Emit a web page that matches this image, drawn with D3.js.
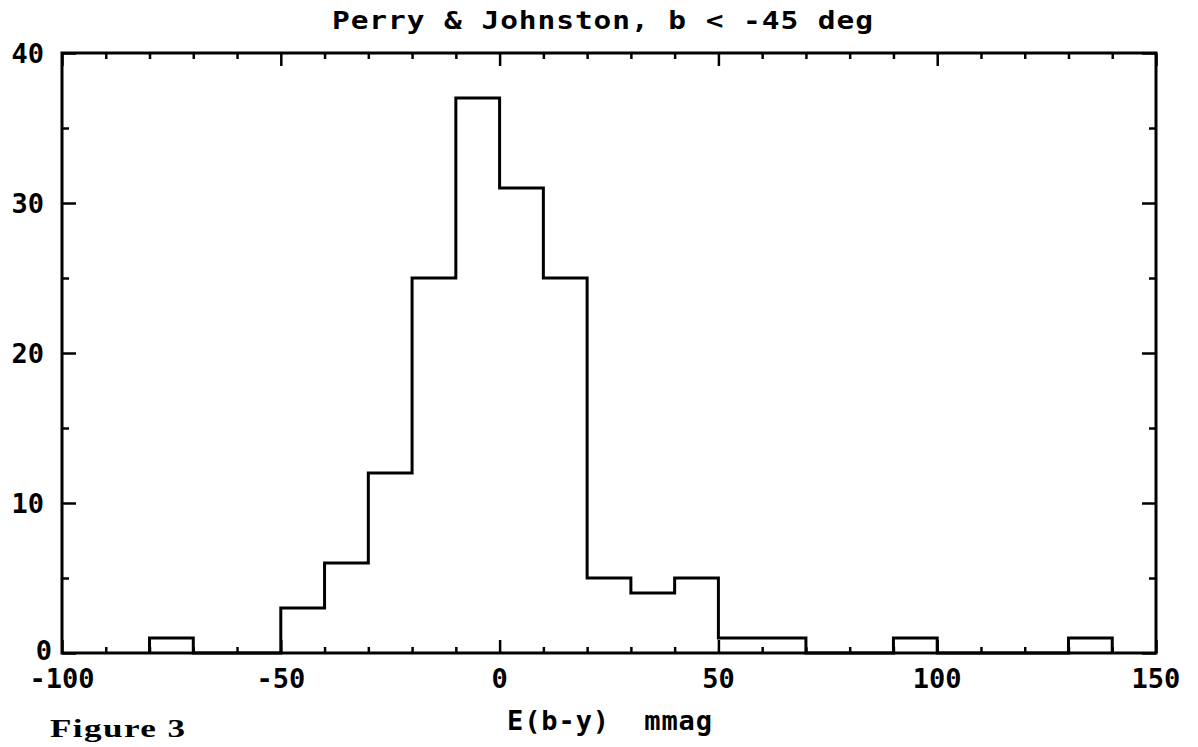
<!DOCTYPE html>
<html>
<head>
<meta charset="utf-8">
<script src="https://cdn.jsdelivr.net/npm/d3@7"></script>
<style>
  html, body { margin: 0; padding: 0; background: #ffffff; }
  svg { display: block; }
  text { fill: #000; }
</style>
</head>
<body>
<script>
// ---- data ----
const binStarts = [-80, -70, -60, -50, -40, -30, -20, -10, 0, 10, 20, 30, 40, 50, 60, 70, 80, 90, 100, 110, 120, 130];
const binWidth = 10;
const counts = [1, 0, 0, 3, 6, 12, 25, 37, 31, 25, 5, 4, 5, 1, 1, 0, 0, 1, 0, 0, 0, 1];
const xTickLabels = [-100, -50, 0, 50, 100, 150];
const yTickLabels = [0, 10, 20, 30, 40];
const titleText = "Perry & Johnston, b < -45 deg";
const xAxisTitle = "E(b-y)  mmag";
const figureLabel = "Figure 3";

// ---- layout ----
const W = 1198, H = 747;
const mLeft = 62, mRight = 1156, mTop = 53, mBottom = 653;

const svg = d3.select("body").append("svg").attr("width", W).attr("height", H);
svg.append("rect").attr("width", W).attr("height", H).attr("fill", "#fff");

const x = d3.scaleLinear().domain([-100, 150]).range([mLeft, mRight]);
const y = d3.scaleLinear().domain([0, 40]).range([mBottom, mTop]);

const labelFont = "'DejaVu Sans Mono', monospace";

const xMinor = d3.range(-100, 151, 10).filter(v => v % 50 !== 0);
const yMinor = d3.range(0, 41, 5).filter(v => v % 10 !== 0);

function styleAxis(g) {
  g.select(".domain").remove();
  g.selectAll(".tick line").attr("stroke", "#000").attr("stroke-width", 2.5);
  g.selectAll("text").remove();
}

// bottom axis ticks (inward)
svg.append("g").attr("transform", `translate(0,${mBottom})`)
  .call(d3.axisTop(x).tickValues(xTickLabels).tickSize(13)).call(styleAxis);
svg.append("g").attr("transform", `translate(0,${mBottom})`)
  .call(d3.axisTop(x).tickValues(xMinor).tickSize(6)).call(styleAxis);
// top axis ticks (inward)
svg.append("g").attr("transform", `translate(0,${mTop})`)
  .call(d3.axisBottom(x).tickValues(xTickLabels).tickSize(13)).call(styleAxis);
svg.append("g").attr("transform", `translate(0,${mTop})`)
  .call(d3.axisBottom(x).tickValues(xMinor).tickSize(6)).call(styleAxis);
// left axis ticks (inward)
svg.append("g").attr("transform", `translate(${mLeft},0)`)
  .call(d3.axisRight(y).tickValues(yTickLabels).tickSize(14)).call(styleAxis);
svg.append("g").attr("transform", `translate(${mLeft},0)`)
  .call(d3.axisRight(y).tickValues(yMinor).tickSize(7)).call(styleAxis);
// right axis ticks (inward)
svg.append("g").attr("transform", `translate(${mRight},0)`)
  .call(d3.axisLeft(y).tickValues(yTickLabels).tickSize(14)).call(styleAxis);
svg.append("g").attr("transform", `translate(${mRight},0)`)
  .call(d3.axisLeft(y).tickValues(yMinor).tickSize(7)).call(styleAxis);

// frame
svg.append("rect")
  .attr("x", x(-100)).attr("y", y(40))
  .attr("width", x(150) - x(-100)).attr("height", y(0) - y(40))
  .attr("fill", "none").attr("stroke", "#000").attr("stroke-width", 3);

// histogram step outline
const pts = [[binStarts[0], 0]];
binStarts.forEach((b, i) => {
  pts.push([b, counts[i]]);
  pts.push([b + binWidth, counts[i]]);
});
pts.push([binStarts[binStarts.length - 1] + binWidth, 0]);
const line = d3.line().x(d => x(d[0])).y(d => y(d[1]));
svg.append("path").attr("d", line(pts))
  .attr("fill", "none").attr("stroke", "#000").attr("stroke-width", 3)
  .attr("stroke-linejoin", "miter");

// x tick labels
svg.append("g").selectAll("text").data(xTickLabels).join("text")
  .attr("x", d => x(d)).attr("y", 688)
  .attr("text-anchor", "middle")
  .attr("font-family", labelFont).attr("font-weight", "bold").attr("font-size", 27)
  .text(d => d);

// y tick labels
svg.append("g").selectAll("text").data(yTickLabels).join("text")
  .attr("x", d => d === 0 ? 52 : 44).attr("y", d => y(d) + (d === 0 ? 7 : 10))
  .attr("text-anchor", "end")
  .attr("font-family", labelFont).attr("font-weight", "bold").attr("font-size", 27)
  .text(d => d);

// title (plotter font is wide: stretch horizontally)
svg.append("g").attr("transform", "translate(332,29) scale(1.18,1)")
  .append("text")
  .attr("x", 0).attr("y", 0)
  .attr("textLength", 541 / 1.18).attr("lengthAdjust", "spacing")
  .attr("font-family", labelFont).attr("font-weight", "bold").attr("font-size", 25)
  .text(titleText);

// x axis title
svg.append("text")
  .attr("x", 507).attr("y", 730)
  .attr("textLength", 205).attr("lengthAdjust", "spacing")
  .attr("font-family", labelFont).attr("font-weight", "bold").attr("font-size", 27)
  .style("white-space", "pre")
  .text(xAxisTitle);

// figure label (typewriter style, widened)
svg.append("g").attr("transform", "translate(50,737) scale(1.35,1)")
  .append("text")
  .attr("x", 0).attr("y", 0)
  .attr("textLength", 135 / 1.35).attr("lengthAdjust", "spacing")
  .attr("font-family", "'Liberation Serif', 'DejaVu Serif', serif").attr("font-weight", "bold").attr("font-size", 26)
  .text(figureLabel);
</script>
</body>
</html>
